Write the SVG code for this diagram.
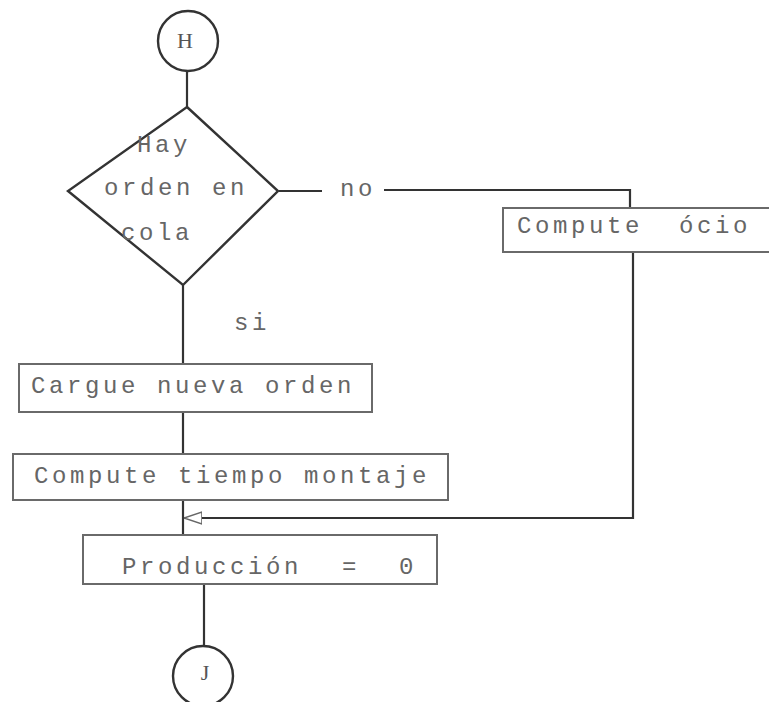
<svg xmlns="http://www.w3.org/2000/svg" width="769" height="702" viewBox="0 0 769 702">
<style>
  .bg{fill:#ffffff}
  .ln{fill:none;stroke:#333;stroke-width:2.2}
  .shape{fill:none;stroke:#333;stroke-width:2.4}
  .box{fill:none;stroke:#6a6a6a;stroke-width:2}
  .t{font-family:"Liberation Mono","Courier New",monospace;font-size:24px;fill:#666;letter-spacing:3.6px}
  .c{font-family:"Liberation Serif","Times New Roman",serif;font-size:22px;fill:#555;text-anchor:middle}
</style>
<defs>
  <marker id="open" viewBox="0 0 18 14" refX="18" refY="7" markerWidth="18" markerHeight="14" markerUnits="userSpaceOnUse" orient="auto">
    <path d="M18,7 L0,1 L0,13 Z" fill="#fff" stroke="#666" stroke-width="1.6"/>
  </marker>
</defs>
<rect class="bg" x="0" y="0" width="769" height="702"/>

<g id="connectors">
  <path class="ln" d="M187,71 V107"/>
  <path class="ln" d="M183,285 V364"/>
  <path class="ln" d="M183,412 V454"/>
  <path class="ln" d="M183,500 V535"/>
  <path class="ln" d="M204,584 V646"/>
  <path class="ln" d="M279,191 H322"/>
  <path class="ln" d="M384,190 H630 V208"/>
  <path class="ln" d="M633,252 V518 H184" marker-end="url(#open)"/>
  <text class="t" x="340" y="196">no</text>
  <text class="t" x="234" y="330">si</text>
</g>

<g id="H">
  <circle class="shape" cx="188" cy="41" r="30"/>
  <text class="c" x="185" y="48">H</text>
</g>

<g id="decision">
  <polygon class="shape" points="187,107 278,191 183,285 68,191"/>
  <text class="t" x="137" y="152">Hay</text>
  <text class="t" x="104" y="195">orden en</text>
  <text class="t" x="121" y="240">cola</text>
</g>

<g id="ocio">
  <rect class="box" x="503" y="208" width="290" height="44"/>
  <text class="t" x="517" y="233">Compute</text>
  <text class="t" x="679" y="233">ócio</text>
</g>

<g id="cargue">
  <rect class="box" x="19" y="364" width="353" height="48"/>
  <text class="t" x="31" y="393">Cargue nueva orden</text>
</g>

<g id="montaje">
  <rect class="box" x="13" y="454" width="435" height="46"/>
  <text class="t" x="34" y="483">Compute tiempo montaje</text>
</g>

<g id="produccion">
  <rect class="box" x="83" y="535" width="354" height="49"/>
  <text class="t" x="122" y="574">Producción</text>
  <text class="t" x="342" y="574">=</text>
  <text class="t" x="399" y="574">0</text>
</g>

<g id="J">
  <circle class="shape" cx="203" cy="676" r="30"/>
  <text class="c" x="205" y="680">J</text>
</g>
</svg>
